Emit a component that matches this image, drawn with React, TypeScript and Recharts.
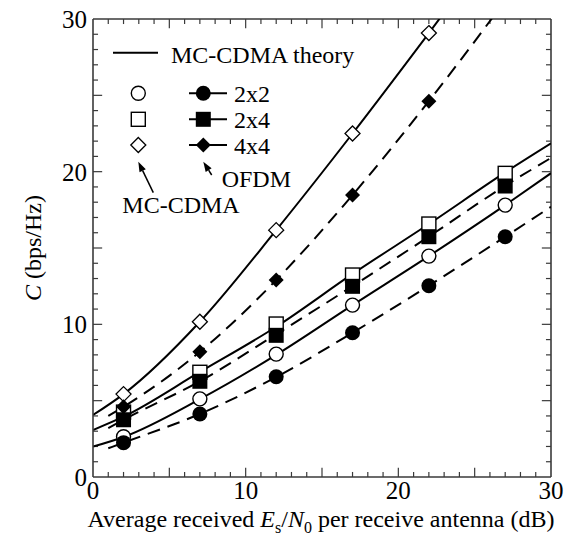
import { ComposedChart, Line, Scatter, XAxis, YAxis, ReferenceLine } from 'recharts';

const FONT = '"Liberation Serif", "Times New Roman", serif';
const AXIS = '#3a3a3a';
const TICK_FONT = 25;

// Es/N0 (dB) of the simulated points
const markerSnr = [2, 7, 12, 17, 22, 27];
const mc2x2 = [2.64, 5.12, 8.05, 11.26, 14.47, 17.81];
const mc2x4 = [4.25, 6.86, 10.02, 13.23, 16.57, 19.89];
const mc4x4 = [5.43, 10.17, 16.17, 22.5, 29.08];
const ofdm2x2 = [2.25, 4.13, 6.57, 9.45, 12.53, 15.74];
const ofdm2x4 = [3.75, 6.27, 9.28, 12.49, 15.74, 19.06];
const ofdm4x4 = [4.6, 8.2, 12.9, 18.47, 24.62];

// MC-CDMA theory (solid)
const theorySnr = [0, 2, 7, 12, 17, 22, 27, 30];
const theory2x2 = [1.99, 2.62, 5.1, 8.0, 11.26, 14.47, 17.81, 19.9];
const theory2x4 = [3.08, 3.95, 6.88, 9.84, 13.3, 16.57, 19.95, 21.85];
const theory4x4 = [4.06, 5.43, 10.17, 16.17, 22.5, 29.08, 35.8, null];

// OFDM (dashed)
const ofdmSnr = [1, 2, 7, 12, 17, 22, 27, 30];
const ofdmCurve2x2 = [1.88, 2.25, 4.13, 6.55, 9.45, 12.53, 15.74, 17.7];
const ofdmCurve2x4 = [3.2, 3.75, 6.27, 9.35, 12.5, 15.75, 19.08, 20.9];
const ofdmCurve4x4 = [4.0, 4.6, 8.2, 12.9, 18.47, 24.62, 31.2, null];

const labelTicks = [0, 10, 20, 30];
// small tick every 1, longer every 5
const minorTicks = [1, 2, 3, 4, 5, 6, 7, 8, 9, 10, 11, 12, 13, 14, 15, 16, 17, 18, 19, 20, 21, 22, 23, 24, 25, 26, 27, 28, 29];

const pts = (xs: number[], ys: (number | null)[]) => ys.map((y, i) => ({ x: xs[i], y }));
// tick length in axis units (both axes: 30 units over 458 px)
const tickLen = (v: number) => (v % 5 === 0 ? 0.6 : 0.33);

const R = 7.5;
const OpenCircle = (p: any) => <circle cx={p.cx} cy={p.cy} r={R - 0.5} fill="#fff" stroke="#000" strokeWidth={1.4} />;
const FilledCircle = (p: any) => <circle cx={p.cx} cy={p.cy} r={R} fill="#000" />;
const OpenSquare = (p: any) => <rect x={p.cx - R + 0.5} y={p.cy - R + 0.5} width={2 * R - 1} height={2 * R - 1} fill="#fff" stroke="#000" strokeWidth={1.4} />;
const FilledSquare = (p: any) => <rect x={p.cx - R} y={p.cy - R} width={2 * R} height={2 * R} fill="#000" />;
const diamond = (cx: number, cy: number, r: number) => `${cx},${cy - r} ${cx + r},${cy} ${cx},${cy + r} ${cx - r},${cy}`;
const OpenDiamond = (p: any) => <polygon points={diamond(p.cx, p.cy, R)} fill="#fff" stroke="#000" strokeWidth={1.3} />;
const FilledDiamond = (p: any) => <polygon points={diamond(p.cx, p.cy, R)} fill="#000" />;

function Arrow({ x1, y1, x2, y2 }: { x1: number; y1: number; x2: number; y2: number }) {
  const dx = x2 - x1, dy = y2 - y1;
  const len = Math.hypot(dx, dy);
  const ux = dx / len, uy = dy / len;
  const bx = x2 - ux * 10, by = y2 - uy * 10;
  return (
    <g>
      <line x1={x1} y1={y1} x2={bx} y2={by} stroke="#000" strokeWidth={1.5} />
      <polygon points={`${x2},${y2} ${bx - uy * 3.5},${by + ux * 3.5} ${bx + uy * 3.5},${by - ux * 3.5}`} fill="#000" />
    </g>
  );
}

function tickMarks() {
  const out: any[] = [];
  const seg = (key: string, a: { x: number; y: number }, b: { x: number; y: number }) =>
    out.push(<ReferenceLine key={key} xAxisId="x" yAxisId="y" segment={[a, b]} stroke={AXIS} strokeWidth={1.2} ifOverflow="visible" />);
  minorTicks.forEach((v) => {
    const l = tickLen(v);
    seg(`b${v}`, { x: v, y: 0 }, { x: v, y: l });
    seg(`t${v}`, { x: v, y: 30 }, { x: v, y: 30 - l });
    seg(`l${v}`, { x: 0, y: v }, { x: l, y: v });
    seg(`r${v}`, { x: 30, y: v }, { x: 30 - l, y: v });
  });
  return out;
}

export default function App() {
  const line = (data: any[], dashed: boolean, key: string) => (
    <Line key={key} xAxisId="x" yAxisId="y" data={data} dataKey="y" type="monotone" stroke="#000" strokeWidth={2}
      strokeDasharray={dashed ? '13 8' : undefined} dot={false} activeDot={false} isAnimationActive={false} />
  );
  const scatter = (data: any[], shape: any, key: string) => (
    <Scatter key={key} xAxisId="x" yAxisId="y" data={data} dataKey="y" shape={shape} isAnimationActive={false} />
  );
  const frame = { stroke: AXIS, strokeWidth: 1.6 };
  const tickFont = { fill: '#000', fontSize: TICK_FONT, fontFamily: FONT };

  return (
    <div style={{ position: 'absolute', left: 0, top: 0, width: 565, height: 535, background: '#fff' }}>
      <ComposedChart width={565} height={535} margin={{ top: 19, right: 14, bottom: 0, left: 0 }}>
        <XAxis xAxisId="x" type="number" dataKey="x" domain={[0, 30]} ticks={labelTicks} allowDataOverflow height={58}
          tickSize={0} tickLine={false} tickMargin={4} interval={0} tick={tickFont} axisLine={frame} />
        <YAxis yAxisId="y" type="number" dataKey="y" domain={[0, 30]} ticks={labelTicks} allowDataOverflow width={93}
          tickSize={0} tickLine={false} tickMargin={6} interval={0} tick={tickFont} axisLine={frame} />

        <ReferenceLine xAxisId="x" yAxisId="y" y={30} stroke={AXIS} strokeWidth={1.6} ifOverflow="visible" />
        <ReferenceLine xAxisId="x" yAxisId="y" x={30} stroke={AXIS} strokeWidth={1.6} ifOverflow="visible" />
        {tickMarks()}

        {line(pts(theorySnr, theory2x2), false, 't22')}
        {line(pts(theorySnr, theory2x4), false, 't24')}
        {line(pts(theorySnr, theory4x4), false, 't44')}
        {line(pts(ofdmSnr, ofdmCurve2x2), true, 'o22')}
        {line(pts(ofdmSnr, ofdmCurve2x4), true, 'o24')}
        {line(pts(ofdmSnr, ofdmCurve4x4), true, 'o44')}

        {scatter(pts(markerSnr, mc2x2), OpenCircle, 'm22')}
        {scatter(pts(markerSnr, mc2x4), OpenSquare, 'm24')}
        {scatter(pts(markerSnr, mc4x4), OpenDiamond, 'm44')}
        {scatter(pts(markerSnr, ofdm2x2), FilledCircle, 'f22')}
        {scatter(pts(markerSnr, ofdm2x4), FilledSquare, 'f24')}
        {scatter(pts(markerSnr, ofdm4x4), FilledDiamond, 'f44')}

        <g fontFamily={FONT} fontSize={24} fill="#000">
          <line x1={113} y1={52.7} x2={158} y2={52.7} stroke="#000" strokeWidth={2} />
          <text x={171} y={63}>MC-CDMA theory</text>

          <OpenCircle cx={138.3} cy={93.3} />
          <line x1={189} y1={93.3} x2={227} y2={93.3} stroke="#000" strokeWidth={2} />
          <FilledCircle cx={203.3} cy={93.3} />
          <text x={234} y={101.7}>2x2</text>

          <OpenSquare cx={138.3} cy={119.3} />
          <line x1={189} y1={119.3} x2={227} y2={119.3} stroke="#000" strokeWidth={2} />
          <FilledSquare cx={203.3} cy={119.3} />
          <text x={234} y={127.7}>2x4</text>

          <OpenDiamond cx={138.3} cy={145} />
          <line x1={189} y1={145} x2={227} y2={145} stroke="#000" strokeWidth={2} />
          <FilledDiamond cx={203.3} cy={145} />
          <text x={234} y={154}>4x4</text>

          <Arrow x1={153.3} y1={192.7} x2={138.3} y2={161.7} />
          <Arrow x1={211.7} y1={175} x2={203.3} y2={161.7} />
          <text x={221.7} y={187.3}>OFDM</text>
          <text x={122.3} y={213.3}>MC-CDMA</text>

          <text x={41} y={248} textAnchor="middle" transform="rotate(-90 41 248)">
            <tspan fontStyle="italic">C</tspan>
            <tspan> (bps/Hz)</tspan>
          </text>

          <text x={321} y={526.5} textAnchor="middle">
            <tspan>Average received </tspan>
            <tspan fontStyle="italic">E</tspan>
            <tspan fontSize={16} dy={6}>s</tspan>
            <tspan dy={-6}>/</tspan>
            <tspan fontStyle="italic">N</tspan>
            <tspan fontSize={16} dy={6}>0</tspan>
            <tspan dy={-6}> per receive antenna (dB)</tspan>
          </text>
        </g>
      </ComposedChart>
    </div>
  );
}
